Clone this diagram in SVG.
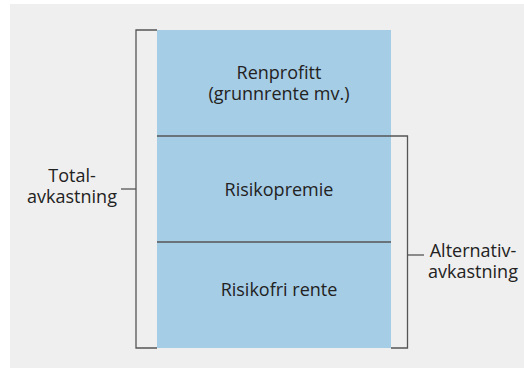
<svg xmlns="http://www.w3.org/2000/svg" width="524" height="369" viewBox="0 0 524 369">
<style>
.t{font-family:"Open Sans","Noto Sans",sans-serif;font-size:18px;fill:#222;}
.l{stroke:#555;stroke-width:1.3;fill:none;}
</style>
<rect x="10" y="4" width="514" height="364" fill="#efefef"/>
<g id="renprofitt">
<rect x="157" y="30" width="234" height="106" fill="#a6cde6"/>
<text class="t" x="279" y="79" text-anchor="middle">Renprofitt</text>
<text class="t" x="279" y="100" text-anchor="middle">(grunnrente mv.)</text>
</g>
<g id="risikopremie">
<rect x="157" y="136" width="234" height="106" fill="#a6cde6"/>
<text class="t" x="279" y="196" text-anchor="middle">Risikopremie</text>
</g>
<g id="risikofri">
<rect x="157" y="242" width="234" height="106" fill="#a6cde6"/>
<text class="t" x="279" y="296" text-anchor="middle">Risikofri rente</text>
</g>
<g id="total">
<text class="t" x="72" y="182" text-anchor="middle">Total-</text>
<text class="t" x="72" y="203" text-anchor="middle">avkastning</text>
</g>
<g id="alternativ">
<text class="t" x="473" y="257" text-anchor="middle">Alternativ-</text>
<text class="t" x="473" y="278" text-anchor="middle">avkastning</text>
</g>
<g id="connectors">
<path class="l" d="M157 30 H136 V348 H157"/>
<path class="l" d="M121 189 H136"/>
<path class="l" d="M157 136 H407.5 V348 H391"/>
<path class="l" d="M157 242 H391"/>
<path class="l" d="M407.5 255 H424"/>
</g>
</svg>
